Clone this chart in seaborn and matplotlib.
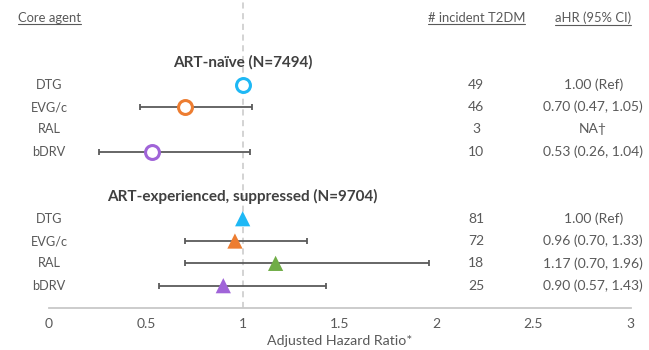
import matplotlib
matplotlib.use("Agg")
import matplotlib.pyplot as plt
import seaborn as sns
import pandas as pd
import numpy as np
from matplotlib.lines import Line2D

# ---- data ----
agents = ["DTG", "EVG/c", "RAL", "bDRV"]
naive_hr = [1.00, 0.70, np.nan, 0.53]
naive_lo = [np.nan, 0.47, np.nan, 0.26]
naive_hi = [np.nan, 1.05, np.nan, 1.04]
naive_n = ["49", "46", "3", "10"]
naive_txt = ["1.00 (Ref)", "0.70 (0.47, 1.05)", "NA\u2020", "0.53 (0.26, 1.04)"]

exp_hr = [1.00, 0.96, 1.17, 0.90]
exp_lo = [np.nan, 0.70, 0.70, 0.57]
exp_hi = [np.nan, 1.33, 1.96, 1.43]
exp_n = ["81", "72", "18", "25"]
exp_txt = ["1.00 (Ref)", "0.96 (0.70, 1.33)", "1.17 (0.70, 1.96)", "0.90 (0.57, 1.43)"]

group_titles = ["ART-na\u00efve (N=7494)", "ART-experienced, suppressed (N=9704)"]
headers = ["Core agent", "# incident T2DM", "aHR (95% CI)"]
xticks = [0, 0.5, 1, 1.5, 2, 2.5, 3]
xtick_labels = ["0", "0.5", "1", "1.5", "2", "2.5", "3"]
xlabel = "Adjusted Hazard Ratio*"

colors = ["#1EB8F5", "#ED7D31", "#70AD47", "#A064D8"]

# ---- layout (row indices) ----
naive_rows = [3, 4, 5, 6]
exp_rows = [9, 10, 11, 12]
title_rows = [2, 8]

rows = []
for i, a in enumerate(agents):
    rows.append(dict(group="naive", agent=a, y=naive_rows[i], hr=naive_hr[i], lo=naive_lo[i],
                     hi=naive_hi[i], n=naive_n[i], txt=naive_txt[i]))
for i, a in enumerate(agents):
    rows.append(dict(group="exp", agent=a, y=exp_rows[i], hr=exp_hr[i], lo=exp_lo[i],
                     hi=exp_hi[i], n=exp_n[i], txt=exp_txt[i]))
df = pd.DataFrame(rows)

sns.set_theme(style="white")
plt.rcParams['font.family'] = ['Lato', 'DejaVu Sans']

W, H = 649, 350
fig = plt.figure(figsize=(W / 100, H / 100), dpi=100)
x0px, x3px, axis_px = 49, 631, 308
ax = fig.add_axes([x0px / W, (H - axis_px) / H, (x3px - x0px) / W, axis_px / H])
ax.set_xlim(0, 3.005)
ax.set_ylim(13, -0.8)

txtc = "#595959"
capc = "#5A5A5A"

# dashed reference line
ax.axvline(1, color="#C8C8C8", lw=1.1, ls=(0, (4, 3)), zorder=0)

# error bars
ci = df.dropna(subset=["lo"])
ax.hlines(ci["y"], ci["lo"], ci["hi"], color=capc, lw=1.3, zorder=1)
ax.vlines(ci["lo"], ci["y"] - 0.14, ci["y"] + 0.14, color=capc, lw=1.3, zorder=1)
ax.vlines(ci["hi"], ci["y"] - 0.14, ci["y"] + 0.14, color=capc, lw=1.3, zorder=1)

pal = dict(zip(agents, colors))
nv = df[(df.group == "naive")].dropna(subset=["hr"])
for _, r in nv.iterrows():
    ax.plot(r.hr, r.y, marker="o", ms=10, mfc="white", mec=pal[r.agent], mew=2.2, zorder=3)
ex = df[df.group == "exp"]
sns.scatterplot(data=ex, x="hr", y="y", hue="agent", palette=pal, marker="^", s=120,
                edgecolor="none", legend=False, ax=ax, zorder=3)

# texts
fs_lab = 9.2
fs_num = 10.0
for _, r in df.iterrows():
    ax.text(0, r.y, r.agent, ha="center", va="center", fontsize=fs_lab, color=txtc, clip_on=False)
    ax.text(2.206, r.y, r.n, ha="center", va="center", fontsize=fs_num, color=txtc, clip_on=False)
    ax.text(2.81, r.y, r.txt, ha="center", va="center", fontsize=fs_num, color=txtc, clip_on=False)

for yy, t in zip(title_rows, group_titles):
    ax.text(1, yy, t, ha="center", va="center", fontsize=11, fontweight="bold", color="#404040", clip_on=False)

fs_h = 9.4
hdr = [ax.text(-0.16, 0, headers[0], ha="left", va="center", fontsize=fs_h, color=txtc, clip_on=False),
       ax.text(2.206, 0, headers[1], ha="center", va="center", fontsize=fs_h, color=txtc, clip_on=False),
       ax.text(2.81, 0, headers[2], ha="center", va="center", fontsize=fs_h, color=txtc, clip_on=False)]

ax.set_xticks(xticks)
ax.set_xticklabels(xtick_labels)
ax.set_yticks([])
ax.tick_params(axis="x", length=0, pad=7, labelsize=10, labelcolor=txtc)
ax.set_xlabel(xlabel, fontsize=10.2, color=txtc, labelpad=3.5)
ax.set_ylabel("")
for s in ["top", "left", "right"]:
    ax.spines[s].set_visible(False)
ax.spines["bottom"].set_color("#C8C8C8")
ax.spines["bottom"].set_linewidth(1.3)

# underline headers
fig.canvas.draw()
rend = fig.canvas.get_renderer()
for t in hdr:
    bb = t.get_window_extent(rend)
    yline = bb.y0 - 0.5
    fig.add_artist(Line2D([bb.x0 / W, bb.x1 / W], [yline / H, yline / H], color=txtc, lw=0.8,
                          transform=fig.transFigure))

fig.savefig("out.png", dpi=100)
